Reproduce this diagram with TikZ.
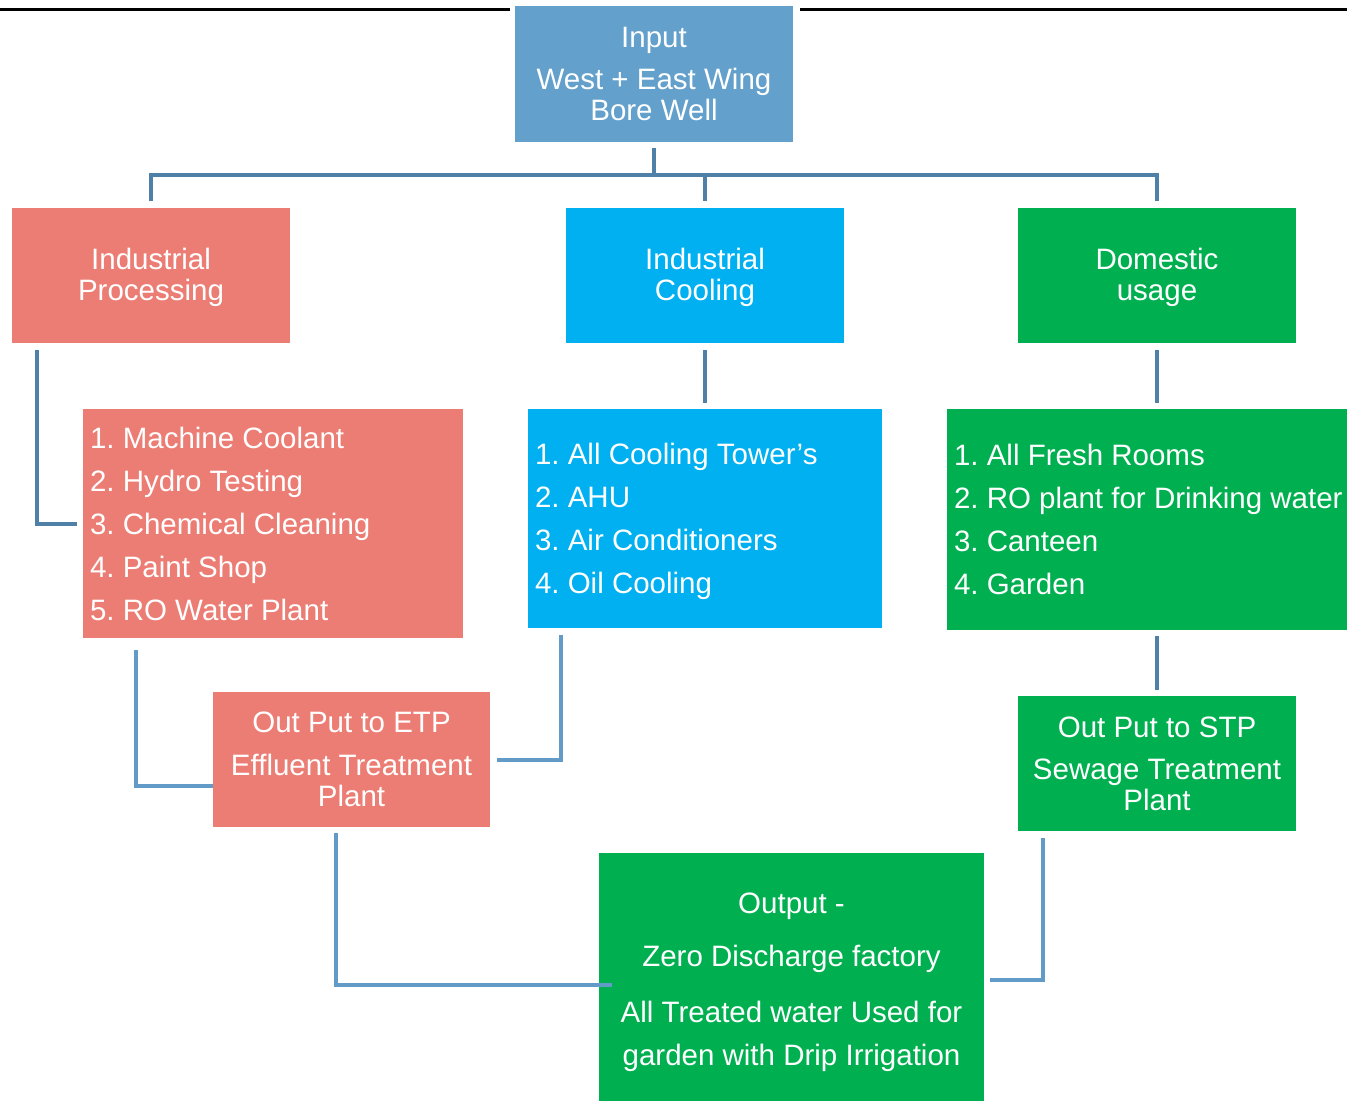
\documentclass[tikz,border=0pt]{standalone}
\usepackage{fontspec}
\setmainfont{Liberation Sans}
\frenchspacing
\definecolor{inblue}{RGB}{99,160,203}
\definecolor{salmon}{RGB}{236,125,116}
\definecolor{cyanbox}{RGB}{0,176,240}
\definecolor{greenbox}{RGB}{0,176,80}
\definecolor{treeline}{RGB}{79,129,168}
\definecolor{linkline}{RGB}{98,155,200}
\tikzset{
  box/.style={draw=none, inner sep=0pt, text=white, align=center,
    font=\fontsize{29.5}{31}\selectfont},
  boxtext/.style={inner sep=0pt, text=white, align=center,
    font=\fontsize{29.5}{31}\selectfont},
  listtext/.style={anchor=west, inner sep=0pt, text=white, align=left,
    font=\fontsize{29.5}{43}\selectfont},
  tree/.style={draw=treeline, line width=4pt},
  link/.style={draw=linkline, line width=4pt},
  rule/.style={draw=black, line width=3pt}
}
\begin{document}
\begin{tikzpicture}[x=1pt,y=-1pt]
\useasboundingbox (0,0) rectangle (1347,1101);

% header rule
\draw[rule] (0,9) -- (510,9);
\draw[rule] (800,9) -- (1347,9);

% source
\node[box, fill=inblue, minimum width=278pt, minimum height=136pt] (in) at (654,74)
  {Input\\[11pt]West + East Wing\\Bore Well};

% three usage groups
\node[box, fill=salmon, minimum width=278pt, minimum height=135pt] (ip) at (151,275.5) {};
\node[boxtext] (ipt) at ([yshift=-2pt]ip.center) {Industrial\\Processing};
\node[box, fill=cyanbox, minimum width=278pt, minimum height=135pt] (ic) at (705,275.5) {};
\node[boxtext] (ict) at ([yshift=-2pt]ic.center) {Industrial\\Cooling};
\node[box, fill=greenbox, minimum width=278pt, minimum height=135pt] (dom) at (1157,275.5) {};
\node[boxtext] (domt) at ([yshift=-2pt]dom.center) {Domestic\\usage};

% lists of consumers
\node[box, fill=salmon, minimum width=380pt, minimum height=229pt] (l1) at (273,523.5) {};
\node[listtext] (l1t) at ([xshift=7pt]l1.west)
  {1. Machine Coolant\\2. Hydro Testing\\3. Chemical Cleaning\\4. Paint Shop\\5. RO Water Plant};
\node[box, fill=cyanbox, minimum width=354pt, minimum height=219pt] (l2) at (705,518.5) {};
\node[listtext] (l2t) at ([xshift=7pt,yshift=-3pt]l2.west)
  {1. All Cooling Tower’s\\2. AHU\\3. Air Conditioners\\4. Oil Cooling};
\node[box, fill=greenbox, minimum width=400pt, minimum height=221pt] (l3) at (1147,519.5) {};
\node[listtext] (l3t) at ([xshift=7pt]l3.west)
  {1. All Fresh Rooms\\2. RO plant for Drinking water\\3. Canteen\\4. Garden};

% treatment plants
\node[box, fill=salmon, minimum width=277pt, minimum height=135pt] (etp) at (351.5,759.5)
  {Out Put to ETP\\[12pt]Effluent Treatment\\Plant};
\node[box, fill=greenbox, minimum width=278pt, minimum height=135pt] (stp) at (1157,763.5)
  {Out Put to STP\\[11pt]Sewage Treatment\\Plant};

% final output
\node[box, fill=greenbox, minimum width=385pt, minimum height=248pt] (out) at (791.5,977) {};
\node[boxtext] (outt) at ([yshift=-5pt]out.center)
  {Output -\\[22pt]Zero Discharge factory\\[25pt]All Treated water Used for\\[12pt]garden with Drip Irrigation};

% distribution tree
\coordinate (bus) at (0,175);
\draw[tree] ([yshift=-6pt]in.south) -- (in.south |- bus);
\draw[tree] ([yshift=7pt]ip.north) -- (ip.north |- bus) -- (dom.north |- bus) -- ([yshift=7pt]dom.north);
\draw[tree] ([yshift=7pt]ic.north) -- (ic.north |- bus);

% groups to lists
\draw[tree] ([xshift=25pt,yshift=-7pt]ip.south west) |- ([xshift=-6pt]l1.west);
\draw[tree] ([yshift=-7pt]ic.south) -- ([yshift=6pt]l2.north);
\draw[tree] ([yshift=-7pt]dom.south) -- ([yshift=6pt]dom.south |- l3.north);
\draw[tree] ([yshift=-6pt]stp.north |- l3.south) -- ([yshift=6pt]stp.north);

% lists to plants
\draw[link] ([xshift=53pt,yshift=-12pt]l1.south west) |- ([yshift=-26.5pt]etp.west);
\draw[link] ([xshift=33pt,yshift=-7pt]l2.south west) |- ([xshift=7pt]etp.east);

% plants to output
\draw[link] ([xshift=123pt,yshift=-6pt]etp.south west) |- ([xshift=13pt,yshift=-8pt]out.west);
\draw[link] ([xshift=25pt,yshift=-7pt]stp.south west) |- ([xshift=6pt,yshift=-3pt]out.east);
\end{tikzpicture}
\end{document}
